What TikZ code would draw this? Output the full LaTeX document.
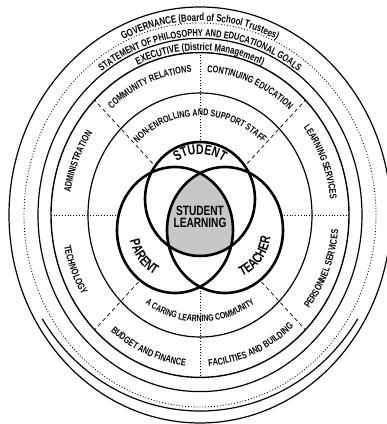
\documentclass[tikz,border=0pt]{standalone}
\usepackage{fontspec}
\newfontfamily\lbl[FakeStretch=0.75]{Liberation Sans}
\usetikzlibrary{decorations.text}
\newcommand\ArcLabel[7]{% center; rx; ratio; start; end; size; text
  \pgfmathsetmacro\ArcRy{#2*#3}%
  \path[decorate,decoration={text along path,text align=center,
     text={|\lbl\bfseries\fontsize{#6}{#6}\selectfont|#7}}]
     (#1) ++(#4:#2 and \ArcRy) arc[start angle=#4,end angle=#5,x radius=#2,y radius=\ArcRy];}
\tikzset{
  ring/.style={line width=1.2pt},
  dotring/.style={line width=0.9pt,dotted},
  axisline/.style={line width=0.8pt,dotted},
  diagline/.style={line width=0.7pt,dash pattern=on 4pt off 3pt},
  venn/.style={line width=2.6pt},
}
\begin{document}
\begin{tikzpicture}[x=1pt,y=1pt]
\useasboundingbox (0,0) rectangle (387,424);
\fill[white] (0,0) rectangle (387,424);
\coordinate (C) at (200,209);
% rings
\draw[ring] (C) ellipse [x radius=191, y radius=208];
\draw[ring] (C) ++(212:186 and 196) arc [start angle=212, end angle=328, x radius=186, y radius=196];
\draw[dotring] (C) ellipse [x radius=176, y radius=192];
\draw[ring] (C) ellipse [x radius=162, y radius=176.6];
\draw[ring,line width=1.4pt] (C) ellipse [x radius=149, y radius=162.4];
\draw[ring] (C) ellipse [x radius=112, y radius=122];
% radial separators
\foreach \a in {0,90,180,270} \draw[axisline] (C) -- ++(\a:149 and 162.4);
\foreach \a in {45,135,225,315} \draw[diagline] (C) -- ++(\a:149 and 162.4);
% Venn
\coordinate (S) at (200,225);
\coordinate (P) at (175,194);
\coordinate (T) at (225,194);
\fill[white] (S) ellipse [x radius=55, y radius=57];
\fill[white] (P) ellipse [x radius=58, y radius=63];
\fill[white] (T) ellipse [x radius=58, y radius=63];
\begin{scope}
  \clip (S) ellipse [x radius=55, y radius=57];
  \clip (P) ellipse [x radius=58, y radius=63];
  \fill[black!22] (T) ellipse [x radius=58, y radius=63];
\end{scope}
\draw[venn] (S) ellipse [x radius=55, y radius=57];
\draw[venn] (P) ellipse [x radius=58, y radius=63];
\draw[venn] (T) ellipse [x radius=58, y radius=63];
\node[font=\lbl\bfseries\fontsize{13.5}{12.5}\selectfont,align=center] (sl) at (200,207) {STUDENT\\LEARNING};
\ArcLabel{S}{43}{1.04}{150}{30}{14}{STUDENT}
\ArcLabel{P}{46}{1.09}{170}{268}{14}{PARENT}
\ArcLabel{T}{46}{1.09}{272}{370}{14}{TEACHER}
% outer bands
\ArcLabel{C}{178}{1.09}{130}{50}{10.5}{GOVERNANCE (Board of School Trustees)}
\ArcLabel{C}{164}{1.09}{140}{40}{10}{STATEMENT OF PHILOSOPHY AND EDUCATIONAL GOALS}
\ArcLabel{C}{151}{1.09}{130}{50}{10.5}{EXECUTIVE (District Management)}
% sectors
\ArcLabel{C}{131}{1.09}{150}{75}{9.8}{COMMUNITY RELATIONS}
\ArcLabel{C}{131}{1.09}{105}{30}{9.8}{CONTINUING EDUCATION}
\ArcLabel{C}{131}{1.09}{60}{-15}{9.8}{LEARNING SERVICES}
\ArcLabel{C}{131}{1.09}{195}{120}{9.8}{ADMINISTRATION}
\ArcLabel{C}{139}{1.09}{165}{240}{9.8}{TECHNOLOGY}
\ArcLabel{C}{139}{1.09}{210}{285}{9.8}{BUDGET AND FINANCE}
\ArcLabel{C}{139}{1.09}{255}{330}{9.8}{FACILITIES AND BUILDING}
\ArcLabel{C}{139}{1.09}{300}{375}{9.8}{PERSONNEL SERVICES}
% inner ring
\ArcLabel{C}{91}{1.09}{150}{30}{9.6}{NON-ENROLLING AND SUPPORT STAFF}
\ArcLabel{C}{98}{1.09}{210}{330}{9.3}{A CARING LEARNING COMMUNITY}
\end{tikzpicture}
\end{document}
